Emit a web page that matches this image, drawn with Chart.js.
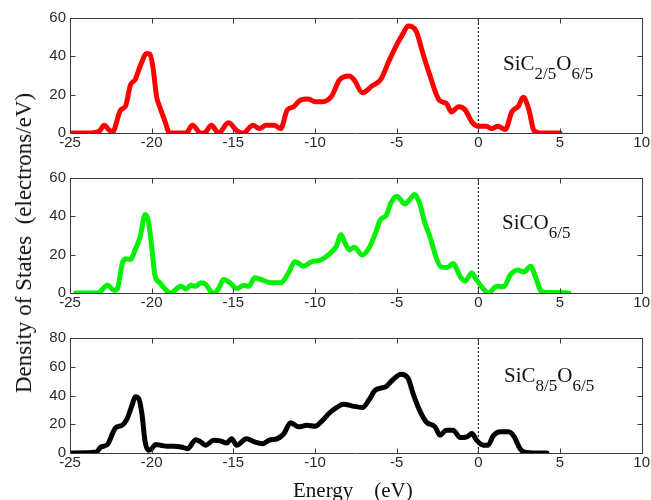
<!DOCTYPE html>
<html>
<head>
<meta charset="utf-8">
<script src="https://cdn.jsdelivr.net/npm/chart.js@4.4.0/dist/chart.umd.min.js"></script>
<style>
  html, body { margin: 0; padding: 0; background: #fff; }
  #wrap { position: relative; width: 651px; height: 500px; overflow: hidden; }
  #wrap canvas { position: absolute; left: 0; }
  .lbl { position: absolute; font-family: "Liberation Serif", "Times New Roman", serif; font-size: 21px; color: #111; white-space: nowrap; line-height: 22px; }
  .lbl span { font-size: 17px; vertical-align: -9px; }
  .title { position: absolute; font-family: "Liberation Serif", "Times New Roman", serif; font-size: 21px; color: #111; white-space: pre; line-height: 22px; }
</style>
</head>
<body>
<div id="wrap">
  <canvas id="c1" width="651" height="160" style="top:0"></canvas>
  <canvas id="c2" width="651" height="160" style="top:160px"></canvas>
  <canvas id="c3" width="651" height="160" style="top:320px"></canvas>
  <div class="lbl" style="left:503px; top:52px">SiC<span>2/5</span>O<span>6/5</span></div>
  <div class="lbl" style="left:502px; top:211px">SiCO<span>6/5</span></div>
  <div class="lbl" style="left:504px; top:364px">SiC<span>8/5</span>O<span>6/5</span></div>
  <div class="title" style="left:24px; top:243px; font-size:23px; transform: translate(-50%, -50%) rotate(-90deg);">Density of States  (electrons/eV)</div>
  <div class="title" style="left:293px; top:479px">Energy    (eV)</div>
</div>
<script>
// energy axis (eV) and density of states (electrons/eV)
var xTicks = [-25, -20, -15, -10, -5, 0, 5, 10];

// SiC2/5O6/5
var energyA = [
  -24.9, -23.7, -23.2, -22.9, -22.6, -22.4, -21.9, -21.6, -21.3, -21.0,
  -20.7, -20.3, -20.1, -19.9, -19.7, -19.5, -19.2, -18.9, -17.9, -17.5,
  -17.0, -16.7, -16.35, -15.9, -15.3, -14.75, -14.4, -13.8, -13.4, -13.0,
  -12.5, -12.1, -11.7, -11.3, -10.9, -10.4, -10.0, -9.55, -9.0, -8.5,
  -7.9, -7.6, -7.1, -6.5, -5.97, -5.45, -5.0, -4.6, -4.3, -3.8,
  -3.4, -3.0, -2.4, -1.95, -1.65, -1.2, -0.8, -0.4, 0, 0.5,
  0.8, 1.2, 1.65, 2.05, 2.45, 2.75, 3.1, 3.4, 3.8, 5.0
];
var dosA = [
  0, 0, 1, 4, 1.5, 0.5, 12, 14, 25, 28,
  35, 41.5, 41, 33, 19, 13.5, 6.5, 0, 0, 4,
  0, 0.5, 4, 0, 5.3, 1, 0, 4, 2.3, 4,
  4, 2.3, 12, 13.7, 17.2, 17.7, 16.3, 16.3, 19, 27.7,
  29.8, 27.7, 21, 24.6, 28, 38, 46, 52, 55.8, 53,
  41.7, 31, 17.2, 15.4, 11, 13.7, 12, 5.8, 3.5, 3.5,
  2.3, 3.5, 1.8, 11, 14, 18.6, 12, 1.4, 0, 0
];

// SiCO6/5
var energyB = [
  -24.65, -23.3, -22.7, -22.3, -22.1, -21.8, -21.6, -21.3, -21.0, -20.7,
  -20.4, -20.2, -20.0, -19.8, -19.5, -19.1, -18.85, -18.2, -17.9, -17.6,
  -17.3, -17.0, -16.7, -16.4, -16.2, -15.9, -15.6, -15.2, -14.8, -14.35,
  -14.05, -13.7, -13.2, -12.7, -12.1, -11.7, -11.2, -10.7, -10.2, -9.65,
  -9.2, -8.7, -8.4, -8.2, -7.9, -7.6, -7.1, -6.7, -6.3, -6.0,
  -5.65, -5.35, -5.0, -4.5, -4.2, -3.9, -3.6, -3.3, -2.9, -2.6,
  -2.3, -1.9, -1.55, -1.1, -0.8, -0.4, -0.1, 0.3, 0.6, 1.15,
  1.55, 1.95, 2.4, 2.8, 3.2, 3.5, 3.9, 4.6, 5.55
];
var dosB = [
  0, 0, 4, 1.4, 2.3, 15.4, 17.9, 17.5, 22.8, 29.5,
  40.9, 37.4, 24.2, 9.3, 5.3, 1.4, 0, 3.5, 2.1, 4,
  3.5, 5.3, 4.6, 1, 0, 2.3, 7, 5.3, 2.3, 4,
  3.5, 8, 6.7, 5.3, 5.3, 9.3, 16.3, 14, 16.3, 17.2,
  19.8, 24.2, 30.4, 26.8, 22.5, 23.9, 19.8, 23.3, 31.2, 38.2,
  40.4, 47, 50.5, 46.5, 48.8, 51.4, 47, 37.4, 27.7, 19,
  13.7, 13.3, 15.4, 8.4, 6.3, 10.5, 6.7, 2.3, 0, 3.5,
  3.2, 9.3, 12, 11, 14, 8.4, 0.5, 0.2, 0
];

// SiC8/5O6/5
var energyC = [
  -24.9, -23.4, -23.1, -22.7, -22.4, -22.2, -21.8, -21.5, -21.2, -21.0,
  -20.8, -20.6, -20.4, -20.2, -20.0, -19.75, -19.45, -19.05, -18.65, -18.2,
  -17.8, -17.3, -17.0, -16.7, -16.2, -15.8, -15.4, -15.1, -14.8, -14.2,
  -13.7, -13.2, -12.8, -12.3, -11.9, -11.5, -11.0, -10.5, -10.0, -9.6,
  -9.1, -8.75, -8.25, -7.7, -7.1, -6.7, -6.3, -5.65, -5.25, -4.73,
  -4.3, -4.0, -3.6, -3.2, -2.65, -2.35, -1.95, -1.55, -1.1, -0.7,
  -0.4, -0.1, 0.3, 0.6, 0.9, 1.35, 1.85, 2.2, 2.55, 2.8,
  3.6, 4.2
];
var dosC = [
  0, 0.7, 4.2, 6, 13.5, 17.7, 19.3, 24, 33.3, 39.2,
  38, 27.5, 7.7, 1.9, 3, 6, 5.4, 4.7, 4.7, 4.2,
  3, 9.3, 7.7, 5.4, 8.9, 8.4, 7, 10, 5.4, 10,
  7.7, 6.5, 8.9, 10, 13.5, 21, 18.2, 19.3, 18.6, 22,
  28, 31, 34, 32.6, 31.7, 36.8, 43.8, 46.2, 50.8, 54.8,
  52, 41.5, 29.8, 21.7, 18.2, 12.4, 15.9, 15.9, 10.7, 11.2,
  13.5, 8.9, 5.4, 5.4, 11.7, 14.7, 14.7, 11.2, 3, 0.7,
  0, 0
];

var yTicksA = [0, 20, 40, 60];
var yTicksB = [0, 20, 40, 60];
var yTicksC = [0, 20, 40, 60, 80];

var tickFont = { family: 'Liberation Sans, Arial, sans-serif', size: 15 };

// frame round the plot plus small inward ticks on all four sides
var frameTicks = {
  id: 'frameTicks',
  afterDatasetsDraw: function(chart) {
    var ctx = chart.ctx, a = chart.chartArea, sx = chart.scales.x, sy = chart.scales.y;
    ctx.save();
    ctx.setLineDash([]);
    ctx.strokeStyle = '#3a3a3a';
    ctx.lineWidth = 1;
    var l = Math.round(a.left) + 0.5, r = Math.round(a.right) + 0.5;
    var t = Math.round(a.top) + 0.5, b = Math.round(a.bottom) + 0.5;
    ctx.beginPath();
    ctx.rect(l, t, r - l, b - t);
    sx.ticks.forEach(function(tk) {
      var p = Math.round(sx.getPixelForValue(tk.value)) + 0.5;
      ctx.moveTo(p, b); ctx.lineTo(p, b - 5);
      ctx.moveTo(p, t); ctx.lineTo(p, t + 5);
    });
    sy.ticks.forEach(function(tk) {
      var p = Math.round(sy.getPixelForValue(tk.value)) + 0.5;
      ctx.moveTo(l, p); ctx.lineTo(l + 5, p);
      ctx.moveTo(r, p); ctx.lineTo(r - 5, p);
    });
    ctx.stroke();
    ctx.restore();
  }
};

function panel(id, xs, ys, color, yTicks) {
  var yMax = yTicks[yTicks.length - 1];
  var pts = xs.map(function(x, i) { return { x: x, y: ys[i] }; });
  new Chart(document.getElementById(id).getContext('2d'), {
    type: 'line',
    data: {
      datasets: [{
        data: pts,
        borderColor: color,
        borderWidth: 5,
        pointRadius: 0,
        cubicInterpolationMode: 'monotone',
        borderJoinStyle: 'round',
        borderCapStyle: 'round',
        fill: false
      }, {
        // Fermi level
        data: [{ x: 0, y: 0 }, { x: 0, y: yMax }],
        borderColor: '#000',
        borderWidth: 1,
        borderDash: [2, 2],
        pointRadius: 0,
        fill: false
      }]
    },
    options: {
      responsive: false,
      animation: false,
      events: [],
      layout: { padding: { left: 0, right: 8, top: 18, bottom: 0 } },
      plugins: { legend: { display: false }, tooltip: { enabled: false } },
      scales: {
        x: {
          type: 'linear', min: xTicks[0], max: xTicks[xTicks.length - 1],
          grid: { display: false, drawTicks: false }, border: { display: false },
          ticks: { stepSize: 5, font: tickFont, color: '#2a2a2a', padding: 1, maxRotation: 0 },
          afterFit: function(s) { s.height = 27; }
        },
        y: {
          min: 0, max: yMax,
          grid: { display: false, drawTicks: false }, border: { display: false },
          ticks: { stepSize: 20, font: tickFont, color: '#2a2a2a', padding: 4 },
          afterFit: function(s) { s.width = 70; }
        }
      }
    },
    plugins: [frameTicks]
  });
}

panel('c1', energyA, dosA, '#ff0000', yTicksA);
panel('c2', energyB, dosB, '#05f005', yTicksB);
panel('c3', energyC, dosC, '#000000', yTicksC);
</script>
</body>
</html>
